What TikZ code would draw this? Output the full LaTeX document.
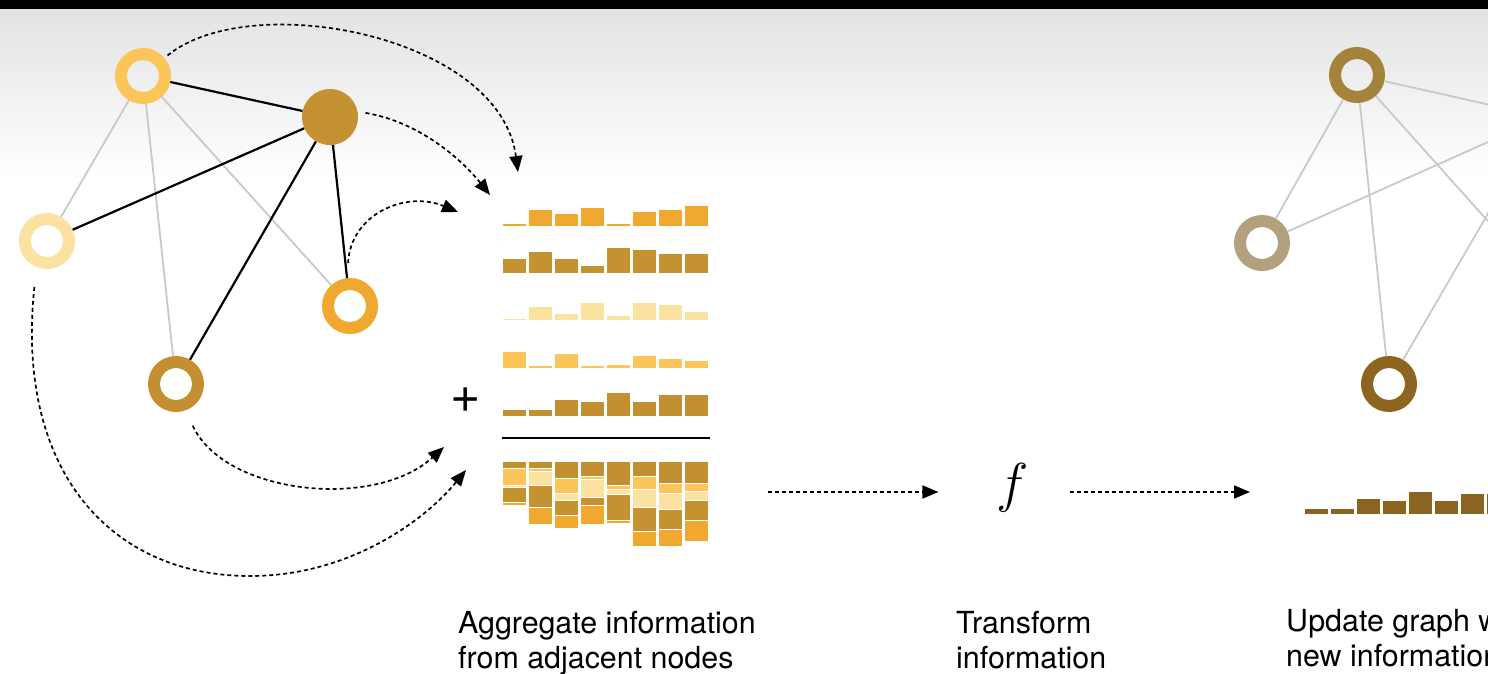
\documentclass[tikz,border=0pt]{standalone}
\usepackage{fontspec}
\setmainfont{TeX Gyre Heros}
\usetikzlibrary{arrows.meta}

\definecolor{goldA}{HTML}{F0A830}
\definecolor{goldB}{HTML}{C49230}
\definecolor{goldC}{HTML}{FCE2A0}
\definecolor{goldD}{HTML}{FCC55A}
\definecolor{goldE}{HTML}{C29030}
\definecolor{newA}{HTML}{A4843B}
\definecolor{newB}{HTML}{B2A17C}
\definecolor{newC}{HTML}{8D6521}
\definecolor{newbar}{HTML}{8B6421}
\definecolor{edgegray}{HTML}{C9C9C9}

% bar heights of the five messages (one list per neighbour)
\def\rowA{3,17,13,19,3,15,17,21}
\def\rowB{15,22,15,8,26,24,20,20}
\def\rowC{2,14,7,18,5,18,16,9}
\def\rowD{17,3,15,3,4,13,10,8}
\def\rowE{7,7,17,15,24,15,22,22}
\def\rowNew{6,6,16,14,23,14,21,21}

% #1 left x, #2 baseline y, #3 colour, #4 list macro of heights
\newcommand{\barrow}[4]{%
  \foreach \h [count=\i from 0] in #4
    \filldraw[fill=#3, bar] ({#1+26*\i},#2) rectangle ++(24,-\h);
}

\tikzset{
  ring/.style={circle, draw=#1, line width=12pt, minimum size=44pt, inner sep=0pt},
  hub/.style={circle, fill=#1, minimum size=56pt, inner sep=0pt},
  strong/.style={line width=2.2pt, black},
  weak/.style={line width=1.8pt, edgegray},
  msg/.style={line width=1.7pt, dash pattern=on 4pt off 3pt, ->},
  bar/.style={draw=white, line width=0.6pt},
  blurb/.style={font=\fontsize{30.4}{35}\selectfont, align=left, anchor=north west, inner sep=0pt},
  bigmath/.style={font=\fontsize{24.88}{24.88}\selectfont, inner sep=0pt, scale=#1, transform shape}
}

\begin{document}
\begin{tikzpicture}[x=1pt, y=-1pt, >={Triangle[length=16pt, width=13pt]}]
    \useasboundingbox (0,0) rectangle (1488,674);
    \clip (0,0) rectangle (1488,674);

    % Background
    \fill[white] (0,0) rectangle (1488,674);
    \shade[top color=black!11, bottom color=white] (0,9) rectangle (1488,180);
    \fill[black] (0,0) rectangle (1488,9);

    % Input graph
    \node[ring=goldD] (n1) at (143,76) {};
    \node[hub=goldB] (n2) at (330,117) {};
    \node[ring=goldC] (n3) at (47,241) {};
    \node[ring=goldA] (n4) at (350,306) {};
    \node[ring=goldE] (n5) at (176,384) {};

    \draw[weak] (n1) -- (n3);
    \draw[weak] (n1) -- (n5);
    \draw[weak] (n1) -- (n4);
    \draw[strong] (n1) -- (n2);
    \draw[strong] (n2) -- (n3);
    \draw[strong] (n2) -- (n5);
    \draw[strong] (n2) -- (n4);

    % Messages to the hub
    \coordinate (in1) at (518,172);
    \coordinate (in2) at (490,195);
    \coordinate (in3) at (458,212);
    \coordinate (in4) at (444,447);
    \coordinate (in5) at (466,470);
    \draw[msg, shorten <=4pt] (n1.40) .. controls (250,-12) and (500,35) .. (in1);
    \draw[msg, shorten <=8pt] (n2.11) .. controls (420,122) and (462,160) .. (in2);
    \draw[msg, shorten <=15pt] (n4.95) .. controls (350,215) and (405,190) .. (in3);
    \draw[msg, shorten <=17pt] (n5.-70) .. controls (225,495) and (375,510) .. (in4);
    \draw[msg, shorten <=20pt] (n3.-112) .. controls (15,470) and (110,576) .. (250,576)
        .. controls (350,576) and (425,520) .. (in5);

    % Aggregation
    \barrow{502}{226}{goldA}{\rowA}
    \barrow{502}{273}{goldB}{\rowB}
    \barrow{502}{320}{goldC}{\rowC}
    \barrow{502}{368}{goldD}{\rowD}
    \barrow{502}{416}{goldE}{\rowE}
    \node[font=\fontsize{52}{52}\selectfont, inner sep=0pt] (plus) at (466,400) {+};
    \draw[line width=2.2pt] (502,438) -- (710,438);
    \foreach \i in {0,...,7}{
      \xdef\ytop{461}
      \foreach \col/\lst in {goldE/\rowE, goldD/\rowD, goldC/\rowC, goldB/\rowB, goldA/\rowA}{
        \pgfmathsetmacro\h{{\lst}[\i]}
        \filldraw[fill=\col, bar] ({502+26*\i},\ytop) rectangle ++(24,\h);
        \pgfmathsetmacro\ynext{\ytop+\h}
        \xdef\ytop{\ynext}
      }
    }

    % Transform
    \coordinate (aggout) at (768,492);
    \coordinate (updin) at (1250,492);
    \node[bigmath=2.2] (fn) at (1013,488) {$f$};
    \draw[msg, shorten >=58pt] (aggout) -- (aggout -| fn.west);
    \draw[msg, shorten <=40pt] (fn.east |- updin) -- (updin);

    % Updated graph
    \node[ring=newA] (r1) at (1357,75) {};
    \node[ring=newB] (r2) at (1262,243) {};
    \node[ring=newC] (r3) at (1389,384) {};
    \coordinate (r4) at (1544,117);
    \coordinate (r5) at (1564,306);
    \draw[weak] (r1) -- (r2);
    \draw[weak] (r1) -- (r3);
    \draw[weak] (r1) -- (r4);
    \draw[weak] (r2) -- (r4);
    \draw[weak] (r1) -- (r5);
    \draw[weak] (r3) -- (r4);
    \barrow{1304}{514}{newbar}{\rowNew}

    % Captions
    \node[blurb] (aggtxt) at (458,611) {Aggregate information\\from adjacent nodes};
    \node[blurb] (fntxt) at (956,611) {Transform\\information};
    \node[blurb] (updtxt) at (1286,609) {Update graph with\\new information};
\end{tikzpicture}
\end{document}
